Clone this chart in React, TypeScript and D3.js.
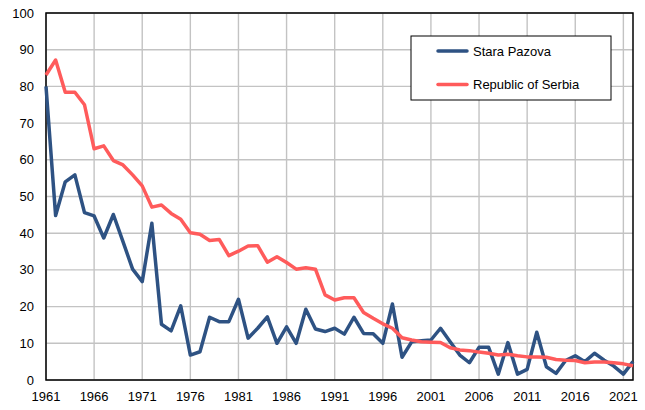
import React from "react";
import * as d3 from "d3";

const years: number[] = d3.range(1961, 2023);
const staraPazova: number[] = [
  80.0, 44.8, 54.0, 55.9, 45.6, 44.7, 38.7, 45.1, 37.7, 30.2,
  26.8, 42.7, 15.2, 13.4, 20.2, 6.8, 7.7, 17.1, 15.9, 15.9,
  22.0, 11.4, 14.1, 17.2, 10.0, 14.5, 10.0, 19.3, 13.9, 13.2,
  14.1, 12.5, 17.1, 12.7, 12.6, 10.0, 20.7, 6.2, 10.4, 10.7,
  10.9, 14.1, 10.4, 6.8, 4.7, 8.9, 8.9, 1.6, 10.2, 1.6,
  2.9, 13.0, 3.6, 1.8, 5.3, 6.6, 5.0, 7.3, 5.4, 3.8,
  1.6, 5.0,
];
const serbia: number[] = [
  83.1, 87.2, 78.4, 78.4, 75.0, 63.0, 63.8, 59.8, 58.6, 55.9,
  52.9, 47.1, 47.7, 45.4, 43.8, 40.1, 39.7, 38.0, 38.3, 33.9,
  35.1, 36.5, 36.6, 32.1, 33.6, 32.0, 30.2, 30.6, 30.2, 23.2,
  21.8, 22.4, 22.4, 18.4, 16.8, 15.3, 14.1, 11.5, 10.9, 10.4,
  10.3, 10.2, 8.8, 8.2, 8.0, 7.6, 7.3, 6.8, 7.0, 6.6,
  6.3, 6.3, 6.2, 5.6, 5.4, 5.3, 4.7, 4.9, 4.9, 4.7,
  4.4, 3.9,
];
const yTicks: number[] = [0, 10, 20, 30, 40, 50, 60, 70, 80, 90, 100];
const xTicks: number[] = [1961, 1966, 1971, 1976, 1981, 1986, 1991, 1996, 2001, 2006, 2011, 2016, 2021];
const seriesNames: string[] = ["Stara Pazova", "Republic of Serbia"];
const seriesColors: string[] = ["#2E5283", "#FF5B5B"];

const W = 645;
const H = 410;
const left = 46;
const right = 633;
const top = 13;
const bottom = 380;

export default function App() {
  const x = d3.scaleLinear().domain([1961, 2022]).range([left, right]);
  const y = d3.scaleLinear().domain([0, 100]).range([bottom, top]);
  const line = d3
    .line<number>()
    .x((_, i) => x(years[i]))
    .y((d) => y(d));
  const font = "'Liberation Sans', Arial, sans-serif";
  const data = [staraPazova, serbia];

  return (
    <svg
      width={W}
      height={H}
      style={{ position: "absolute", left: 0, top: 0, background: "#fff" }}
    >
      {yTicks.map((t) => (
        <line key={"h" + t} x1={left} x2={right} y1={y(t)} y2={y(t)} stroke="#C3C3C3" strokeWidth={1.4} />
      ))}
      {xTicks.map((t) => (
        <line key={"v" + t} x1={x(t)} x2={x(t)} y1={top} y2={bottom} stroke="#C3C3C3" strokeWidth={1.4} />
      ))}
      <rect x={left} y={top} width={right - left} height={bottom - top} fill="none" stroke="#000" strokeWidth={1.5} />
      {data.map((s, k) => (
        <path
          key={k}
          d={line(s) || ""}
          fill="none"
          stroke={seriesColors[k]}
          strokeWidth={3.5}
          strokeLinejoin="round"
        />
      ))}
      {yTicks.map((t) => (
        <text key={"yl" + t} x={34} y={y(t)} dy="0.35em" textAnchor="end" fontFamily={font} fontSize={13} fill="#000">
          {t}
        </text>
      ))}
      {xTicks.map((t) => (
        <text key={"xl" + t} x={x(t)} y={401} textAnchor="middle" fontFamily={font} fontSize={13} fill="#000">
          {t}
        </text>
      ))}
      <rect x={411} y={36} width={200} height={64} fill="#fff" stroke="#000" strokeWidth={1} />
      {seriesNames.map((n, k) => (
        <g key={n}>
          <line
            x1={438}
            x2={467}
            y1={51 + k * 33.5}
            y2={51 + k * 33.5}
            stroke={seriesColors[k]}
            strokeWidth={3.5}
            strokeLinecap="round"
          />
          <text x={473} y={51 + k * 33.5} dy="0.35em" fontFamily={font} fontSize={13} fill="#000">
            {n}
          </text>
        </g>
      ))}
    </svg>
  );
}
